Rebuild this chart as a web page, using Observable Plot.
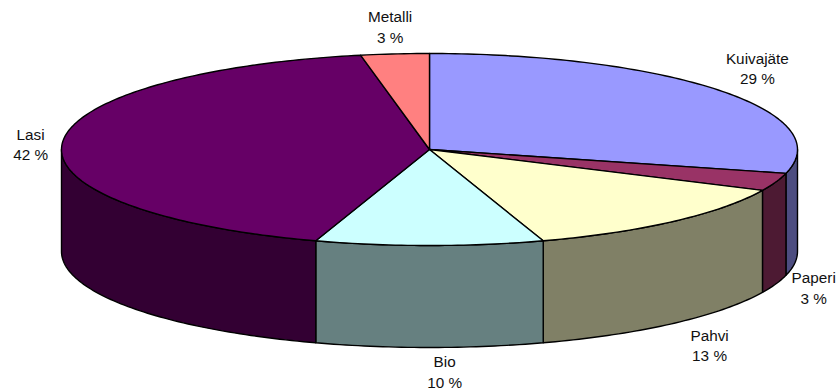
<!DOCTYPE html>
<html lang="fi">
<head>
<meta charset="utf-8">
<style>
  html, body { margin: 0; padding: 0; background: #fff; }
  svg { display: block; }
</style>
<script src="https://cdn.jsdelivr.net/npm/d3@7"></script>
<script src="https://cdn.jsdelivr.net/npm/@observablehq/plot@0.6"></script>
</head>
<body>
<script>
// Waste fractions, percent of total, clockwise from twelve o'clock.
const categories = ["Kuivajäte", "Paperi", "Pahvi", "Bio", "Lasi", "Metalli"];
const shares = [29, 3, 13, 10, 42, 3];
const topColors = ["#9999ff", "#993366", "#ffffcc", "#ccffff", "#660066", "#ff8080"];
const sideColors = ["#4d4d80", "#4d1a33", "#808066", "#668080", "#330033", "#804040"];

// Label centres in pie units (rim radius = 1 on both axes).
const labelX = [0.891, 1.044, 0.761, 0.041, -1.084, -0.107];
const labelY = [-0.854, 1.432, 2.03, 2.307, -0.0625, -1.286];

const DEPTH = 1.0625; // wall height of the pie, in y units

const total = d3.sum(shares);
const ends = d3.cumsum(shares);
const rim = (deg) => {
  const a = deg * Math.PI / 180;
  return {x: Math.sin(a), y: -Math.cos(a)};
};
const arc = (from, to) => {
  const n = Math.max(1, Math.ceil(Math.abs(to - from)));
  return d3.range(n + 1).map((i) => rim(from + (to - from) * i / n));
};
const wedges = categories.map((name, i) => ({
  name,
  from: (ends[i] - shares[i]) / total * 360,
  to: ends[i] / total * 360,
  top: topColors[i],
  side: sideColors[i]
}));

// Upper faces: hub, then the arc of the rim.
const topPoints = wedges.flatMap((w) =>
  [{x: 0, y: 0}, ...arc(w.from, w.to)].map((p) => ({...p, slice: w.name, color: w.top}))
);

// Walls: only the part of each wedge on the near half of the rim is visible.
const sidePoints = wedges.flatMap((w) => {
  const from = Math.max(w.from, 90);
  const to = Math.min(w.to, 270);
  if (to <= from) return [];
  const upper = arc(from, to);
  const lower = upper.map((p) => ({x: p.x, y: p.y + DEPTH})).reverse();
  return [...upper, ...lower].map((p) => ({...p, slice: w.name, color: w.side}));
});

const labels = categories.map((name, i) => ({
  text: `${name}\n${shares[i]} %`,
  x: labelX[i],
  y: labelY[i]
}));

const chart = Plot.plot({
  width: 838,
  height: 391,
  margin: 0,
  style: {background: "#fff", overflow: "visible"},
  x: {domain: [-1, 1], range: [61, 797], axis: null},
  y: {domain: [-1, 1], range: [53, 245], axis: null},
  color: {type: "identity"},
  marks: [
    Plot.line(sidePoints, {
      x: "x", y: "y", z: "slice", fill: "color",
      stroke: "#000", strokeWidth: 1.4, curve: "linear-closed", strokeLinejoin: "round"
    }),
    Plot.line(topPoints, {
      x: "x", y: "y", z: "slice", fill: "color",
      stroke: "#000", strokeWidth: 1.4, curve: "linear-closed", strokeLinejoin: "round"
    }),
    Plot.text(labels, {
      x: "x", y: "y", text: "text",
      fontFamily: "Liberation Sans, Arial, sans-serif",
      fontSize: 15.3, lineHeight: 1.34, fill: "#111"
    })
  ]
});
document.body.appendChild(chart);
</script>
</body>
</html>
